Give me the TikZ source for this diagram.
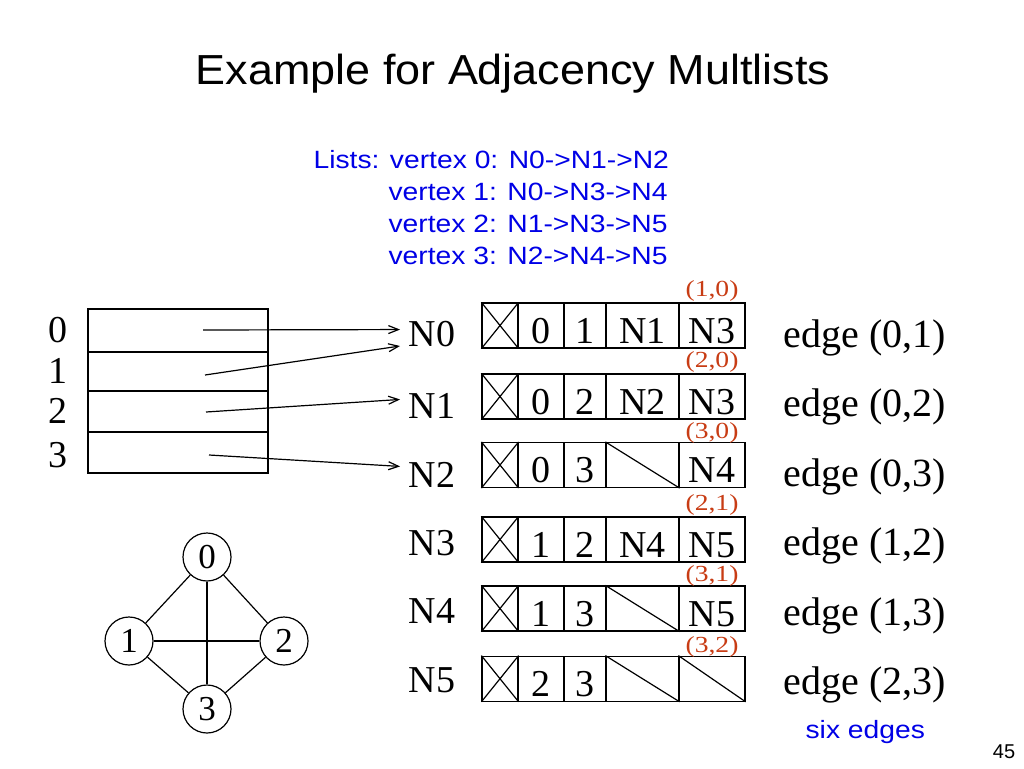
\documentclass[tikz,border=0pt]{standalone}
\usepackage{fontspec}
\setmainfont{Liberation Serif}
\newfontfamily\slidesans{Liberation Sans}
\newfontfamily\titlesans[FakeStretch=1.07]{Liberation Sans}
\newfontfamily\listsans[FakeStretch=1.13]{Liberation Sans}
\newfontfamily\pairserif[FakeStretch=1.2]{Liberation Serif}
\usetikzlibrary{arrows.meta,positioning}
\definecolor{listblue}{RGB}{0,0,230}
\definecolor{pairred}{RGB}{200,60,20}

\begin{document}
\begin{tikzpicture}[x=1pt, y=-1pt, line width=1.2pt,
    >={Straight Barb[length=10pt,width=8pt]},
    cell/.style={draw, rectangle, inner sep=0pt, minimum height=45pt,
        text height=35pt, text depth=0pt, font=\fontsize{38}{40}\selectfont},
    nlabel/.style={anchor=base west, inner xsep=8pt, inner ysep=0pt,
        font=\fontsize{38}{40}\selectfont},
    elabel/.style={anchor=base west, inner sep=0pt, font=\fontsize{40}{44}\selectfont},
    pair/.style={text=pairred, inner sep=0pt, font=\pairserif\fontsize{23}{26}\selectfont},
    listline/.style={anchor=base west, inner sep=0pt, text=listblue,
        font=\listsans\fontsize{25}{28}\selectfont},
    vtx/.style={draw, circle, minimum size=48pt, inner sep=0pt,
        font=\fontsize{35}{36}\selectfont}]
    \useasboundingbox (0,0) rectangle (1024,768);

    \node[anchor=base, inner sep=0pt, font=\titlesans\fontsize{42}{48}\selectfont]
        (title) at (513,84) {Example for Adjacency Multlists};

    % lists of the vertices
    \node[listline] (list0) at (313,168) {Lists: vertex 0: N0->N1->N2};
    \node[listline] (list1) at (388,200) {vertex 1: N0->N3->N4};
    \node[listline] (list2) at (388,232) {vertex 2: N1->N3->N5};
    \node[listline] (list3) at (388,264) {vertex 3: N2->N4->N5};

    % head nodes
    \draw (88,309) rectangle (268,473);
    \draw (88,352) -- (268,352);
    \draw (88,391) -- (268,391);
    \draw (88,432) -- (268,432);
    \foreach \i/\y in {0/330, 1/371, 2/411, 3/455}
        \node[font=\fontsize{38}{40}\selectfont] (h\i) at (58,\y) {\i};
    \coordinate (t0) at (203,330);
    \coordinate (t1) at (205,375);
    \coordinate (t2) at (206,412);
    \coordinate (t3) at (209,455);

    % edge nodes
    \foreach \i/\b in {0/346, 1/418, 2/487, 3/555, 4/623, 5/692}
        \node[nlabel] (n\i) at (400,\b) {N\i};
    \foreach \i/\y/\a/\b/\p/\q in {0/325.5/0/1/N1/N3, 1/396.5/0/2/N2/N3,
        2/465/0/3/{}/N4, 3/539.5/1/2/N4/N5, 4/608.5/1/3/{}/N5, 5/678.7/2/3/{}/{}} {
        \node[cell, minimum width=36pt] (x\i) at (500,\y) {};
        \node[cell, minimum width=46pt] (a\i) at (541,\y) {\a};
        \node[cell, minimum width=42pt] (b\i) at (585,\y) {\b};
        \node[cell, minimum width=73pt] (p\i) at (642.5,\y) {\p};
        \node[cell, minimum width=66pt] (q\i) at (712,\y) {\q};
        \draw (x\i.north west) -- (x\i.south east) (x\i.south west) -- (x\i.north east);
    }
    % null links
    \draw (p2.north west) -- (p2.south east);
    \draw (p4.north west) -- (p4.south east);
    \draw (p5.north west) -- (p5.south east);
    \draw (q5.north west) -- (q5.south east);

    \foreach \i/\y/\e in {0/291/{(1,0)}, 1/362/{(2,0)}, 2/433/{(3,0)},
        3/505/{(2,1)}, 4/576/{(3,1)}, 5/647/{(3,2)}}
        \node[pair] (e\i) at (712,\y) {\e};
    \foreach \i/\b/\e in {0/347/{(0,1)}, 1/416/{(0,2)}, 2/486/{(0,3)},
        3/555/{(1,2)}, 4/625/{(1,3)}, 5/694/{(2,3)}}
        \node[elabel] (edge\i) at (783,\b) {edge \e};

    \draw[->] (t0) -- ([yshift=4pt]n0.west);
    \draw[->] (t1) -- (n0.base west);
    \draw[->] (t2) -- ([yshift=6pt]n1.west);
    \draw[->] (t3) -- ([yshift=8pt]n2.west);

    % the graph
    \node[vtx] (v0) at (207,557) {0};
    \node[vtx] (v1) at (129,641) {1};
    \node[vtx] (v2) at (284,641) {2};
    \node[vtx] (v3) at (207,709) {3};
    \draw (v0) -- (v1);
    \draw (v0) -- (v2);
    \draw (v0) -- (v3);
    \draw (v1) -- (v2);
    \draw (v1) -- (v3);
    \draw (v2) -- (v3);

    \node[anchor=base west, inner sep=0pt, text=listblue,
        font=\listsans\fontsize{25}{28}\selectfont] (six) at (805,738) {six edges};
    \node[anchor=base, inner sep=0pt, font=\slidesans\fontsize{20}{24}\selectfont]
        (page) at (1004,758) {45};
\end{tikzpicture}
\end{document}
